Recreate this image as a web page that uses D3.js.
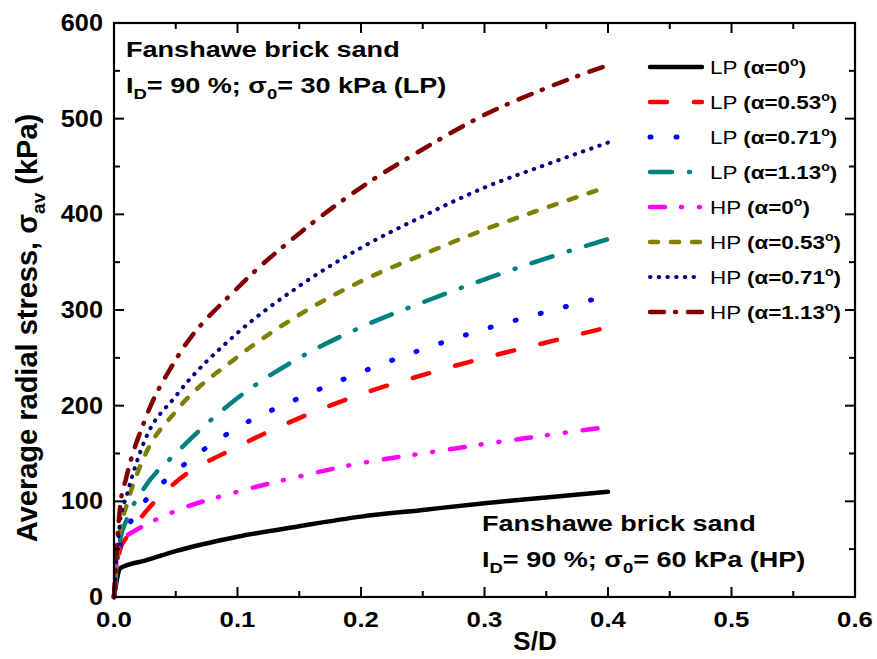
<!DOCTYPE html>
<html><head><meta charset="utf-8">
<script src="https://cdn.jsdelivr.net/npm/d3@7/dist/d3.min.js"></script>
<style>
body{margin:0;background:#fff;}
text{font-family:"Liberation Sans",Arial,sans-serif;}
</style></head>
<body>
<svg id="c" width="877" height="659"></svg>
<script>
// ---- data ----
const xTicks = [0.0, 0.1, 0.2, 0.3, 0.4, 0.5, 0.6];
const yTicks = [0, 100, 200, 300, 400, 500, 600];
const sd = [0, 0.005, 0.01, 0.025, 0.05, 0.1, 0.15, 0.2, 0.25, 0.3, 0.35, 0.4];
const lp0   = [0, 30, 33, 38, 48, 63, 74, 84, 91, 98, 104, 110];
const lp053 = [0, 50, 62, 88, 120, 157, 187, 212, 232, 250, 266, 282];
const lp071 = [0, 55, 70, 100, 131, 177, 208, 235, 259, 280, 298, 315];
const lp113 = [0, 60, 80, 115, 150, 208, 250, 282, 308, 332, 354, 374];
const hp0   = [0, 60, 64, 75, 90, 110, 126, 140, 150, 160, 169, 178];
const hp053 = [0, 70, 95, 148, 194, 251, 295, 330, 358, 384, 407, 429];
const hp071 = [0, 80, 105, 164, 210, 276, 325, 365, 398, 428, 452, 475];
const hp113 = [0, 95, 125, 185, 248, 323, 380, 428, 468, 504, 532, 556];
const seriesNames = ["LP", "LP", "LP", "LP", "HP", "HP", "HP", "HP"];
const seriesAlpha = ["0", "0.53", "0.71", "1.13", "0", "0.53", "0.71", "1.13"];
const seriesValues = [lp0, lp053, lp071, lp113, hp0, hp053, hp071, hp113];
const colors = ["#000000", "#ff0000", "#0000ff", "#008080", "#ff00ff", "#808000", "#000080", "#800000"];
const dashes = [null, "17,27", "1,25", "22,17,1,17", "15,16,1,17,1,17", "8,13", "0.5,8.2", "14,11,1,12"];
const widths = [4.5, 4.5, 5, 4.5, 4.5, 4.5, 4, 4.5];

const svg = d3.select("#c");
const L = 114, R = 855, T = 23, B = 597;
const x = d3.scaleLinear().domain([0, 0.6]).range([L, R]);
const y = d3.scaleLinear().domain([0, 600]).range([B, T]);

// helper: horizontally stretched text
function stext(px, py, sx, anchor, size, bold) {
  const gg = svg.append("g").attr("transform", `translate(${px},${py}) scale(${sx},1)`);
  return gg.append("text").attr("x", 0).attr("y", 0).attr("text-anchor", anchor)
    .attr("font-size", size).attr("font-weight", bold ? "bold" : "normal");
}

// curves
const line = d3.line().x(d => x(d[0])).y(d => y(d[1])).curve(d3.curveMonotoneX);
const g = svg.append("g");
seriesValues.forEach((vals, i) => {
  const pts = sd.map((s, j) => [s, vals[j]]);
  const p = g.append("path").datum(pts).attr("d", line)
    .attr("fill", "none").attr("stroke", colors[i]).attr("stroke-width", widths[i])
    .attr("stroke-linecap", "round").attr("stroke-linejoin", "round");
  if (dashes[i]) p.attr("stroke-dasharray", dashes[i]);
});

// axes (ticks inward on all sides)
const ax = svg.append("g");
const xMinor = d3.range(0, 0.6001, 0.05);
const yMinor = d3.range(0, 600.01, 50);
xMinor.forEach(v => {
  const len = xTicks.some(t => Math.abs(t - v) < 1e-6) ? 10 : 6;
  ax.append("line").attr("x1", x(v)).attr("x2", x(v)).attr("y1", B).attr("y2", B - len).attr("stroke", "#000").attr("stroke-width", 2);
  ax.append("line").attr("x1", x(v)).attr("x2", x(v)).attr("y1", T).attr("y2", T + len).attr("stroke", "#000").attr("stroke-width", 2);
});
yMinor.forEach(v => {
  const len = yTicks.some(t => Math.abs(t - v) < 1e-6) ? 10 : 6;
  ax.append("line").attr("y1", y(v)).attr("y2", y(v)).attr("x1", L).attr("x2", L + len).attr("stroke", "#000").attr("stroke-width", 2);
  ax.append("line").attr("y1", y(v)).attr("y2", y(v)).attr("x1", R).attr("x2", R - len).attr("stroke", "#000").attr("stroke-width", 2);
});
ax.append("rect").attr("x", L).attr("y", T).attr("width", R - L).attr("height", B - T)
  .attr("fill", "none").attr("stroke", "#000").attr("stroke-width", 2.2);

// tick labels
xTicks.forEach(v => {
  stext(x(v), 627, 1.12, "middle", 23, true).text(d3.format(".1f")(v));
});
yTicks.forEach(v => {
  stext(103, y(v) + 8, 1.1, "end", 23, true).text(v);
});

// axis titles
stext(535, 650, 1.0, "middle", 26, true).text("S/D");
const yt = svg.append("text").attr("transform", "translate(37,328) rotate(-90)")
  .attr("text-anchor", "middle").attr("font-size", 29).attr("font-weight", "bold");
yt.append("tspan").text("Average radial stress, σ");
yt.append("tspan").attr("font-size", 19).attr("dy", 8).text("av");
yt.append("tspan").attr("dy", -8).text(" (kPa)");

// annotations
function annot(x0, y0, sigma, tag) {
  stext(x0, y0, 1.23, "start", 22, true).text("Fanshawe brick sand");
  const t = stext(x0, y0 + 36, 1.23, "start", 22, true);
  t.append("tspan").text("I");
  t.append("tspan").attr("font-size", 15).attr("dy", 6).text("D");
  t.append("tspan").attr("dy", -6).text("= 90 %; σ");
  t.append("tspan").attr("font-size", 15).attr("dy", 6).text("0");
  t.append("tspan").attr("dy", -6).text("= " + sigma + " kPa (" + tag + ")");
}
annot(126, 57, "30", "LP");
annot(482, 531, "60", "HP");

// legend
seriesValues.forEach((vals, i) => {
  const yy = 67 + i * 35;
  const p = svg.append("line").attr("x1", 650).attr("x2", 702).attr("y1", yy).attr("y2", yy)
    .attr("stroke", colors[i]).attr("stroke-width", widths[i]).attr("stroke-linecap", "round");
  if (dashes[i]) p.attr("stroke-dasharray", dashes[i]);
  const t = stext(710, yy + 7, 1.18, "start", 19, false);
  t.append("tspan").text(seriesNames[i] + " ");
  t.append("tspan").attr("font-weight", "bold").text("(α=" + seriesAlpha[i]);
  t.append("tspan").attr("font-weight", "bold").attr("font-size", 12).attr("dy", -8).text("o");
  t.append("tspan").attr("font-weight", "bold").attr("dy", 8).text(")");
});
</script>
</body></html>
